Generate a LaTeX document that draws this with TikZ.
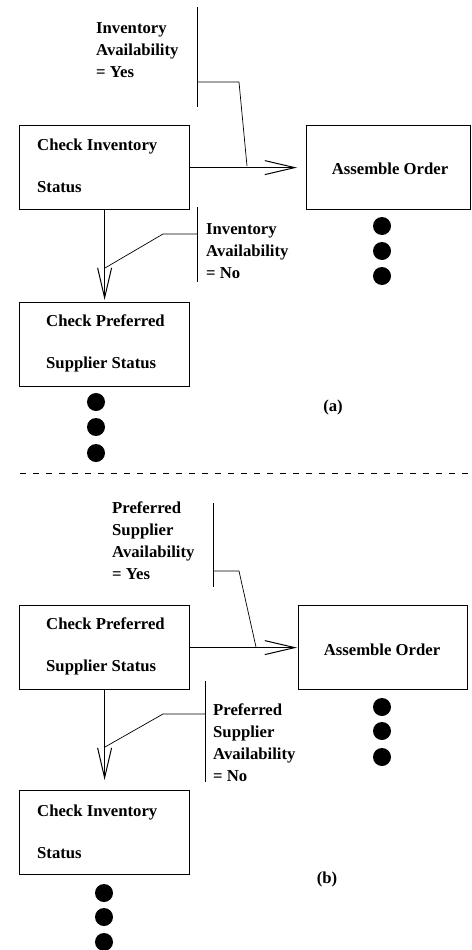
\documentclass[tikz,border=0pt]{standalone}
\usepackage{fontspec}
\setmainfont{Liberation Serif}
\usetikzlibrary{arrows.meta}
\begin{document}
\begin{tikzpicture}[x=1pt,y=-1pt,
  every node/.style={font=\bfseries\fontsize{16.7}{22}\selectfont},
  procbox/.style={draw,line width=1.2pt,minimum height=84pt,inner sep=0pt,anchor=north west},
  boxtext/.style={align=left,anchor=west,inner sep=0pt},
  note/.style={align=left,anchor=north west,inner sep=0pt},
  flow/.style={line width=1.1pt,-{Straight Barb[length=30pt,width=14pt,line width=1pt]}},
  bracket/.style={line width=0.7pt},
  dot/.style={circle,fill=black,minimum size=18pt,inner sep=0pt}]
\useasboundingbox (0,0) rectangle (471,950);

% ---------- (a) ----------
\node[procbox,minimum width=170pt] (ci1) at (19,125) {};
\node[boxtext] (ci1t) at (37,166) {Check Inventory\\[20pt]Status};
\node[procbox,minimum width=164pt] (ao1) at (306,125) {};
\node (ao1t) at (390,169) {Assemble Order};
\node[procbox,minimum width=170pt] (cp1) at (19,302) {};
\node[boxtext] (cp1t) at (46,343) {Check Preferred\\[20pt]Supplier Status};

\draw[flow,shorten >=9pt] (ci1.east) -- (ao1.west);
\draw[flow,shorten >=2pt] (ci1.south) -- (cp1.north);

\node[note] (n1) at (96,22) {Inventory\\Availability\\= Yes};
\coordinate (b1t) at (197,7);
\coordinate (b1b) at (197,107);
\coordinate (b1m) at (197,82);
\coordinate (b1k) at (239,82);
\coordinate (b1e) at (247,166);
\draw[bracket] (b1t) -- (b1b);
\draw[bracket] (b1m) -- (b1k) -- (b1e);

\node[note] (n2) at (206,223) {Inventory\\Availability\\= No};
\coordinate (b2t) at (197,207);
\coordinate (b2b) at (197,282);
\coordinate (b2m) at (197,234);
\coordinate (b2k) at (163,234);
\coordinate (b2e) at (105,268);
\draw[bracket] (b2t) -- (b2b);
\draw[bracket] (b2m) -- (b2k) -- (b2e);

\node[dot] (d1) at (382,226) {};
\node[dot] (d2) at (382,251) {};
\node[dot] (d3) at (382,276) {};
\node[dot] (d4) at (96,402) {};
\node[dot] (d5) at (96,427) {};
\node[dot] (d6) at (96,453) {};
\node (la) at (333,407) {(a)};

% ---------- separator ----------
\coordinate (sepl) at (20,473);
\coordinate (sepr) at (471,473);
\draw[line width=0.6pt,dash pattern=on 6pt off 7pt] (sepl) -- (sepr);

% ---------- (b) ----------
\node[procbox,minimum width=170pt] (cp2) at (19,605) {};
\node[boxtext] (cp2t) at (46,646) {Check Preferred\\[20pt]Supplier Status};
\node[procbox,minimum width=169pt] (ao2) at (298,605) {};
\node (ao2t) at (382,650) {Assemble Order};
\node[procbox,minimum width=170pt] (ci2) at (19,790) {};
\node[boxtext] (ci2t) at (37,832) {Check Inventory\\[20pt]Status};

\draw[flow,shorten >=1pt] (cp2.east) -- (ao2.west);
\draw[flow,shorten >=10pt] (cp2.south) -- (ci2.north);

\node[note] (n3) at (112,502) {Preferred\\Supplier\\Availability\\= Yes};
\coordinate (b3t) at (213,503);
\coordinate (b3b) at (213,587);
\coordinate (b3m) at (213,571);
\coordinate (b3k) at (239,571);
\coordinate (b3e) at (256,647);
\draw[bracket] (b3t) -- (b3b);
\draw[bracket] (b3m) -- (b3k) -- (b3e);

\node[note] (n4) at (213,704) {Preferred\\Supplier\\Availability\\= No};
\coordinate (b4t) at (205,681);
\coordinate (b4b) at (205,782);
\coordinate (b4m) at (205,714);
\coordinate (b4k) at (163,714);
\coordinate (b4e) at (105,747);
\draw[bracket] (b4t) -- (b4b);
\draw[bracket] (b4m) -- (b4k) -- (b4e);

\node[dot] (d7) at (382,707) {};
\node[dot] (d8) at (382,731) {};
\node[dot] (d9) at (382,757) {};
\node[dot] (d10) at (104,893) {};
\node[dot] (d11) at (104,917) {};
\node[dot] (d12) at (104,942) {};
\node (lb) at (327,879) {(b)};
\end{tikzpicture}
\end{document}
